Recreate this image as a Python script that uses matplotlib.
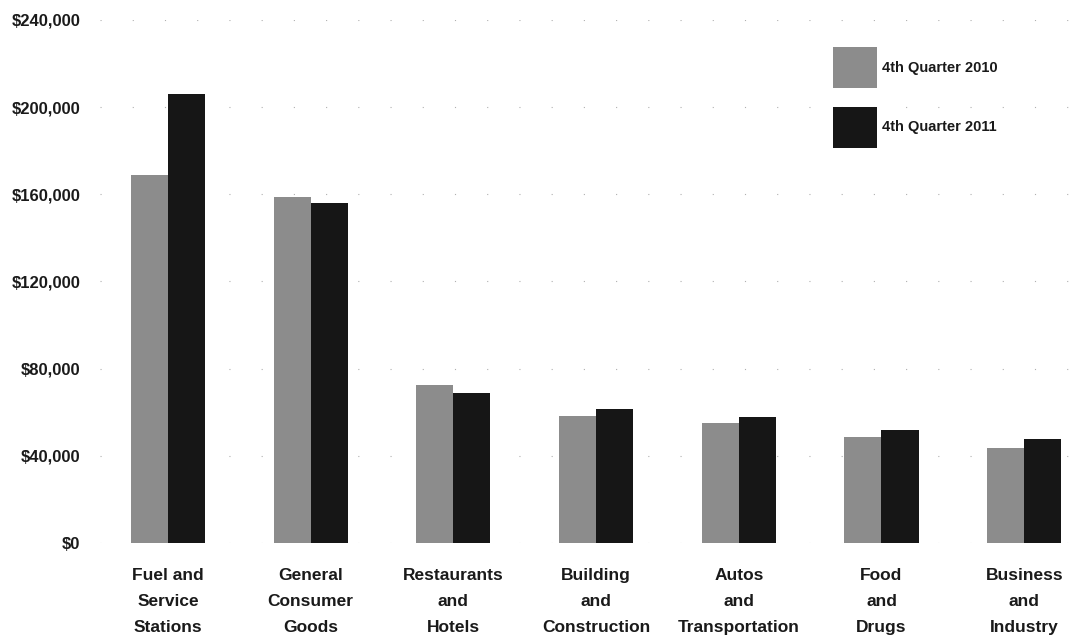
import matplotlib
matplotlib.use("Agg")
import matplotlib.pyplot as plt
import numpy as np
from matplotlib.ticker import FuncFormatter

categories = ["Fuel and\nService\nStations", "General\nConsumer\nGoods", "Restaurants\nand\nHotels",
              "Building\nand\nConstruction", "Autos\nand\nTransportation", "Food\nand\nDrugs",
              "Business\nand\nIndustry"]
q4_2010 = [169000, 159000, 72500, 58500, 55000, 48500, 43500]
q4_2011 = [206000, 156000, 69000, 61500, 58000, 52000, 47500]
series_labels = ["4th Quarter 2010", "4th Quarter 2011"]
yticks = [0, 40000, 80000, 120000, 160000, 200000, 240000]

plt.rcParams['font.family'] = ['Liberation Sans', 'DejaVu Sans']

fig = plt.figure(figsize=(10.81, 6.35), dpi=100)
ax = fig.add_axes([100/1081, 92/635, 975/1081, 523/635])

x = np.arange(len(categories))
w = 0.26
ax.bar(x - w/2, q4_2010, w, color='#8c8c8c', label=series_labels[0], zorder=3)
ax.bar(x + w/2, q4_2011, w, color='#161616', label=series_labels[1], zorder=3)

ax.set_xlim(-0.476, 6.356)
ax.set_ylim(0, 240000)
ax.set_yticks(yticks)
ax.yaxis.set_major_formatter(FuncFormatter(lambda v, p: "$0" if v == 0 else "${:,.0f}".format(v)))
ax.set_xticks(x)
ax.set_xticklabels(categories, fontsize=12.5, linespacing=1.92, fontweight='bold', color='#1a1a1a')
ax.tick_params(axis='x', length=0, pad=18)
ax.tick_params(axis='y', length=0, pad=14, labelsize=12, labelcolor='#1a1a1a')
for lbl in ax.get_yticklabels():
    lbl.set_fontweight('bold')
for s in ax.spines.values():
    s.set_visible(False)
ax.yaxis.grid(True, linestyle=(0, (1, 28)), color='#b0b0b0', linewidth=0.8, zorder=0)

leg = ax.legend(loc='upper left', bbox_to_anchor=((833 - 100) / 975, (543 - 47) / 523), frameon=False,
                handlelength=3.0, handleheight=4.0, labelspacing=1.25,
                handletextpad=0.35, borderpad=0, borderaxespad=0,
                prop={'weight': 'bold', 'size': 10.5})
for t in leg.get_texts():
    t.set_color('#1a1a1a')

fig.savefig("out.png", dpi=100)
